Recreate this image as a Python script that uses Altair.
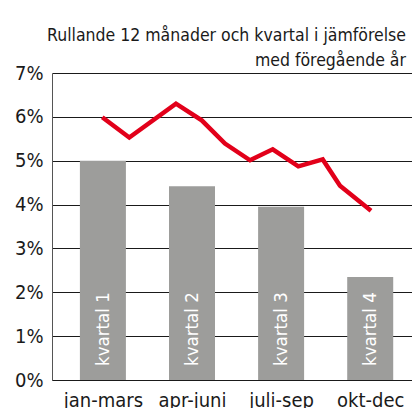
import altair as alt
import pandas as pd

# Quarterly bars
quarters = [1, 2, 3, 4]
quarter_labels = ["jan-mars", "apr-juni", "juli-sep", "okt-dec"]
bar_names = ["kvartal 1", "kvartal 2", "kvartal 3", "kvartal 4"]
bar_values = [5.00, 4.42, 3.95, 2.35]

# Rolling 12 months line (x in quarter units)
line_x = [0.993, 1.296, 1.820, 2.109, 2.370, 2.651, 2.906, 3.193, 3.467, 3.661, 4.009]
line_values = [5.99, 5.53, 6.30, 5.92, 5.39, 5.01, 5.26, 4.87, 5.03, 4.43, 3.86]

title_lines = ["Rullande 12 månader och kvartal i jämförelse", "med föregående år"]

FONT = "DejaVu Sans Condensed, Roboto, sans-serif"

bars = pd.DataFrame({"q": quarters, "v": [v / 100 for v in bar_values], "name": bar_names})
line = pd.DataFrame({"q": line_x, "v": [v / 100 for v in line_values]})

xscale = alt.Scale(domain=[0.4287, 4.469], nice=False, zero=False, padding=0)
yscale = alt.Scale(domain=[0, 0.07], nice=False, padding=0)

label_expr = ("datum.value == 1 ? '" + quarter_labels[0] + "' : datum.value == 2 ? '" + quarter_labels[1]
              + "' : datum.value == 3 ? '" + quarter_labels[2] + "' : '" + quarter_labels[3] + "'")

xaxis = alt.Axis(values=quarters, labelExpr=label_expr, title=None, ticks=False,
                 domain=True, domainColor="#1a1a1a", domainWidth=1.2, grid=False,
                 labelFont=FONT, labelFontSize=20, labelColor="#1a1a1a", labelPadding=10)
yaxis = alt.Axis(values=[i / 100 for i in range(0, 8)], format=".0%", title=None, ticks=False,
                 domain=True, domainColor="#555555", grid=True, gridColor="#1a1a1a", gridWidth=1.2,
                 labelFont=FONT, labelFontSize=20, labelColor="#1a1a1a", labelPadding=9)

bar_layer = alt.Chart(bars).mark_bar(size=46, color="#9d9d9b").encode(
    x=alt.X("q:Q", scale=xscale, axis=xaxis),
    y=alt.Y("v:Q", scale=yscale, axis=yaxis),
)

bar_text = alt.Chart(bars).mark_text(angle=270, align="left", baseline="middle", color="white",
                                     font=FONT, fontSize=18.5).encode(
    x=alt.X("q:Q", scale=xscale),
    y=alt.value(293),
    text="name:N",
)

line_layer = alt.Chart(line).mark_line(color="#e2001a", strokeWidth=4.5, strokeJoin="miter").encode(
    x=alt.X("q:Q", scale=xscale),
    y=alt.Y("v:Q", scale=yscale),
    order="q:Q",
)

chart = alt.layer(bar_layer, bar_text, line_layer).properties(
    width=360,
    height=307,
    padding={"left": 44, "top": 65, "right": 0, "bottom": 28},
    autosize=alt.AutoSizeParams(type="none"),
    title=alt.TitleParams(text=title_lines, anchor="end", font=FONT, fontSize=17.5,
                          fontWeight="normal", color="#1a1a1a", lineHeight=25,
                          baseline="alphabetic", offset=7, dx=-6, dy=27),
).configure_view(stroke=None)

chart.save("out.html", embed_options={"renderer": "svg", "actions": False})
